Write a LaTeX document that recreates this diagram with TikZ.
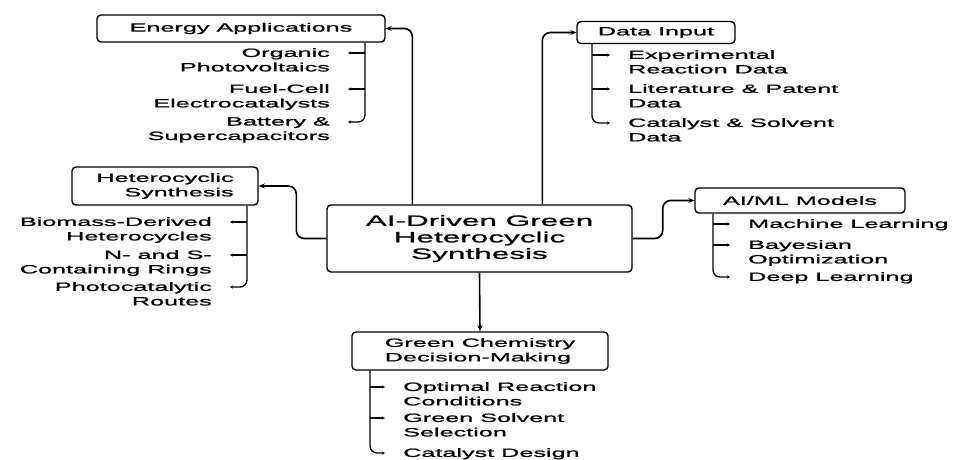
\documentclass[tikz,border=0pt]{standalone}
\usepackage{fontspec}
\setmainfont{Liberation Sans}[FakeStretch=2.1,FakeBold=1.2]
\usetikzlibrary{arrows.meta}

\begin{document}
\begin{tikzpicture}[x=1pt,y=-1pt,
  box/.style={draw,line width=1.4pt,rounded corners=4pt,inner sep=0pt,font=\fontsize{12}{14.5}\selectfont},
  item/.style={inner sep=0pt,font=\fontsize{12}{14.5}\selectfont},
  link/.style={line width=1.6pt,rounded corners=8pt,-{Stealth[length=6pt,width=5pt]}},
  tick/.style={line width=1.3pt,rounded corners=7pt,-{Stealth[length=3pt,width=3pt]},shorten >=18pt},
]
\useasboundingbox (0,0) rectangle (958,459);

\node[box,minimum width=305,minimum height=67,align=center,font=\fontsize{15}{16.5}\selectfont] (ctr) at (479.5,238.5) {AI-Driven Green\\Heterocyclic\\Synthesis};
\node[box,minimum width=288,minimum height=27] (ea) at (241,28.5) {Energy Applications};
\node[box,minimum width=158,minimum height=22] (di) at (656,32.5) {Data Input};
\node[box,minimum width=186,minimum height=38,align=right] (hs) at (165,186) {Heterocyclic\\Synthesis};
\node[box,minimum width=210,minimum height=25] (ai) at (800,200.5) {AI/ML Models};
\node[box,minimum width=256,minimum height=38,align=left] (gc) at (480,351) {Green Chemistry\\Decision-Making};

\draw[link] ([xshift=86pt]ctr.north west) |- (ea.east);
\draw[link] ([xshift=216pt]ctr.north west) |- (di.west);
\draw[link] (ctr.west) -- ++(-30,0) |- (hs.east);
\draw[link] (ctr.east) -- ++(30,0) |- (ai.west);
\draw[link] (ctr.south) -- (gc.north);

\coordinate (e1) at (365,53);
\coordinate (e2) at (365,89);
\coordinate (e3) at (365,122);
\node[item,align=right,anchor=north east] (opv) at (330,48) {Organic\\Photovoltaics};
\node[item,align=right,anchor=north east] (fce) at (330,84) {Fuel-Cell\\Electrocatalysts};
\node[item,align=right,anchor=north east] (bsc) at (330,117) {Battery \&\\Supercapacitors};
\draw[tick] (e1) -- (opv.east |- e1);
\draw[tick] (e2) -- (fce.east |- e2);
\draw[tick] (ea.south -| e1) |- (bsc.east |- e3);

\coordinate (d1) at (592,55);
\coordinate (d2) at (592,89);
\coordinate (d3) at (592,123);
\node[item,align=left,anchor=north west] (erd) at (628,50) {Experimental\\Reaction Data};
\node[item,align=left,anchor=north west] (lpd) at (628,84) {Literature \& Patent\\Data};
\node[item,align=left,anchor=north west] (csd) at (628,118) {Catalyst \& Solvent\\Data};
\draw[tick] (d1) -- (erd.west |- d1);
\draw[tick] (d2) -- (lpd.west |- d2);
\draw[tick] (di.south -| d1) |- (csd.west |- d3);

\coordinate (h1) at (247,222);
\coordinate (h2) at (247,255);
\coordinate (h3) at (247,287);
\node[item,align=right,anchor=north east] (bdh) at (212,217) {Biomass-Derived\\Heterocycles};
\node[item,align=right,anchor=north east] (nsr) at (212,250) {N- and S-\\Containing Rings};
\node[item,align=right,anchor=north east] (pcr) at (212,282) {Photocatalytic\\Routes};
\draw[tick] (h1) -- (bdh.east |- h1);
\draw[tick] (h2) -- (nsr.east |- h2);
\draw[tick] (hs.south -| h1) |- (pcr.east |- h3);

\coordinate (m1) at (713,224);
\coordinate (m2) at (713,245);
\coordinate (m3) at (713,277);
\node[item,align=left,anchor=north west] (mlr) at (748,219) {Machine Learning};
\node[item,align=left,anchor=north west] (bop) at (748,240) {Bayesian\\Optimization};
\node[item,align=left,anchor=north west] (dlr) at (748,272) {Deep Learning};
\draw[tick] (m1) -- (mlr.west |- m1);
\draw[tick] (m2) -- (bop.west |- m2);
\draw[tick] (ai.south -| m1) |- (dlr.west |- m3);

\coordinate (g1) at (370,387);
\coordinate (g2) at (370,418);
\coordinate (g3) at (370,453);
\node[item,align=left,anchor=north west] (orc) at (403,382) {Optimal Reaction\\Conditions};
\node[item,align=left,anchor=north west] (gss) at (403,413) {Green Solvent\\Selection};
\node[item,align=left,anchor=north west] (cde) at (403,448) {Catalyst Design};
\draw[tick] (g1) -- (orc.west |- g1);
\draw[tick] (g2) -- (gss.west |- g2);
\draw[tick] (gc.south -| g1) |- (cde.west |- g3);
\end{tikzpicture}
\end{document}
